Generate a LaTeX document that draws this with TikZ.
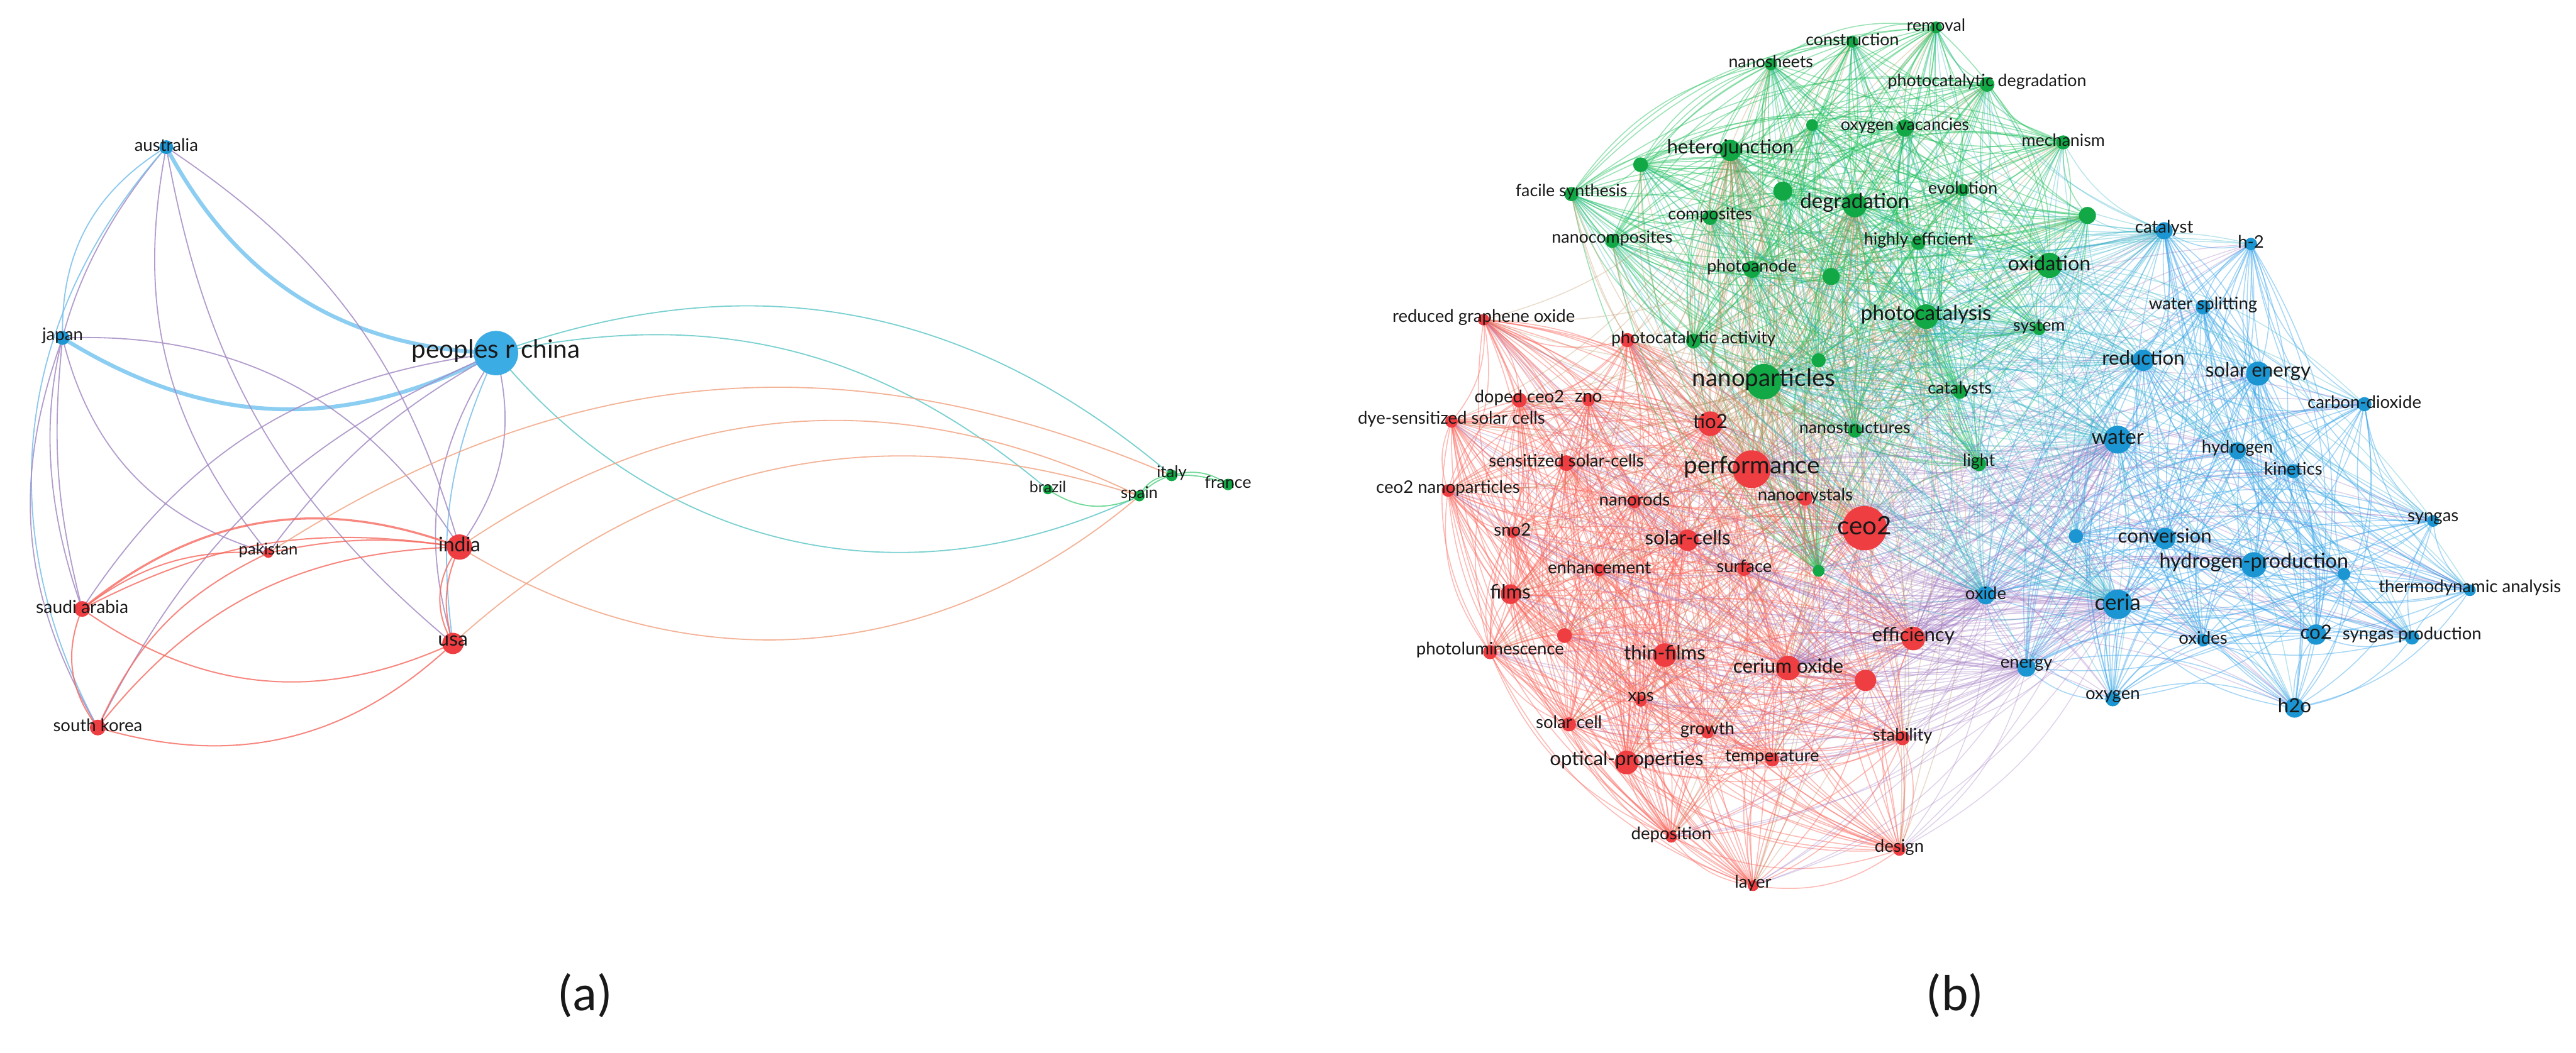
\documentclass[tikz,border=0pt]{standalone}
\usepackage{fontspec}
\setmainfont{Lato}
\newfontfamily\capfont{Carlito}
\pgfdeclarelayer{edges}\pgfdeclarelayer{dots}
\pgfsetlayers{edges,dots,main}
\definecolor{rn}{RGB}{238,62,66}
\definecolor{gn}{RGB}{18,168,70}
\definecolor{bn}{RGB}{28,150,210}
\definecolor{bnl}{RGB}{60,172,228}
\definecolor{re}{RGB}{250,100,90}
\definecolor{ge}{RGB}{30,190,90}
\definecolor{be}{RGB}{60,165,235}
\definecolor{rge}{RGB}{185,140,90}
\definecolor{rbe}{RGB}{155,115,190}
\definecolor{gbe}{RGB}{40,175,195}
\definecolor{txt}{RGB}{25,25,25}
\definecolor{athk}{RGB}{140,205,242}
\definecolor{ablu}{RGB}{120,190,235}
\definecolor{apur}{RGB}{165,140,195}
\definecolor{ared}{RGB}{245,105,95}
\definecolor{aora}{RGB}{240,160,125}
\definecolor{agrn}{RGB}{90,210,135}
\definecolor{atea}{RGB}{100,200,200}
\tikzset{
 dot/.style={circle,inner sep=0pt,draw=none},
 lab/.style={inner sep=0pt,text=txt,anchor=center},
 rr/.style={draw=re,line width=0.42pt,draw opacity=0.45},
 gg/.style={draw=ge,line width=0.42pt,draw opacity=0.45},
 bb/.style={draw=be,line width=0.42pt,draw opacity=0.45},
 rg/.style={draw=rge,line width=0.4pt,draw opacity=0.32},
 rb/.style={draw=rbe,line width=0.4pt,draw opacity=0.32},
 gb/.style={draw=gbe,line width=0.4pt,draw opacity=0.32},
 aT/.style={draw=athk,line width=1.7pt},
 aB/.style={draw=ablu,line width=0.5pt,draw opacity=0.85},
 aP/.style={draw=apur,line width=0.5pt,draw opacity=0.85},
 aR/.style={draw=ared,line width=0.55pt,draw opacity=0.8},
 aO/.style={draw=aora,line width=0.5pt,draw opacity=0.8},
 aG/.style={draw=agrn,line width=0.5pt,draw opacity=0.85},
 aE/.style={draw=atea,line width=0.5pt,draw opacity=0.85},
}
\newcommand\kw[7]{%
\begin{pgfonlayer}{dots}\node[dot,minimum size={#4*0.05cm},fill=#5] (#1) at (#2,#3) {};\end{pgfonlayer}%
\node[lab,font=\fontsize{#6}{#6}\selectfont] (#1-l) at (#2,#3-1.5) {#7};}
\newcommand\kd[5]{%
\begin{pgfonlayer}{dots}\node[dot,minimum size={#4*0.05cm},fill=#5] (#1) at (#2,#3) {};\end{pgfonlayer}}
\newcommand\allpairs[2]{%
\foreach \aa [count=\ii] in #1 {\foreach \bb [count=\jj] in #1 {\ifnum\jj>\ii\relax\draw[#2] (\aa.center) to[bend right=22] (\bb.center);\fi}}}
\newcommand\cross[3]{%
\foreach \aa in #1 {\foreach \bb in {#2} {\draw[#3] (\aa.center) to[bend right=20] (\bb.center);}}}
\def\Rl{ceo2,perf,tio2,solcells,cerox,thinf,optprop,effic,films,sensit,dyesens,doped,zno,ceo2np,nanorods,sno2,enhance,photolum,solcell,xps,growth,temper,depos,layer,design,stabil,nanocr,surface,rgo,rA,rB,rC}
\def\Gl{nanopart,photocat,degrad,oxidat,hetero,removal,constr,nanosh,pcdeg,oxyvac,mechan,facile,compos,nanocomp,evol,highly,photoan,pcact,catalysts,system,nanostr,light,gA,gB,gC,gD,gE,gF,gG}
\def\Bl{water,ceria,hprod,solen,reduct,conver,co2,h2o,catalyst,htwo,wsplit,cdiox,hydrogen,kinet,syngas,thermo,sgprod,oxides,oxide,energy,oxygen,bA,bB}
\begin{document}
\begin{tikzpicture}[x=0.025cm,y=-0.025cm]
\useasboundingbox (0,0) rectangle (1568,641);
% ---------------- panel (a) ----------------
\kw{aus}{101.2}{89.6}{4.2}{bn}{7.5}{australia}
\kw{jap}{38.1}{205.8}{4.2}{bn}{7.5}{japan}
\kw{chn}{301.9}{215}{13.5}{bnl}{11}{peoples r china}
\kw{pak}{163.3}{336.7}{3}{rn}{7}{pakistan}
\kw{ind}{279.7}{333.1}{7.7}{rn}{8.7}{india}
\kw{sau}{50}{370.8}{4.8}{rn}{7.7}{saudi arabia}
\kw{usa}{275.7}{391.8}{6.5}{rn}{8.7}{usa}
\kw{kor}{59.5}{443}{4.8}{rn}{7.5}{south korea}
\kw{bra}{637.8}{298}{3}{gn}{6.8}{brazil}
\kw{spa}{693.5}{302}{3.3}{gn}{7}{spain}
\kw{ita}{713.2}{289.5}{3.5}{gn}{7}{italy}
\kw{fra}{747.5}{295}{3.5}{gn}{7.3}{france}
% ---------------- panel (b) red ----------------
\kw{ceo2}{1134.9}{321.6}{13.5}{rn}{11}{ceo2}
\kw{perf}{1066.3}{285.7}{11.5}{rn}{10.5}{performance}
\kw{tio2}{1041}{258}{7.5}{rn}{8.5}{tio2}
\kw{solcells}{1027.3}{329}{6.5}{rn}{8.5}{solar-cells}
\kw{cerox}{1088.5}{406.8}{7.5}{rn}{8.5}{cerium oxide}
\kw{thinf}{1013.3}{398.9}{7.2}{rn}{8.5}{thin-films}
\kw{optprop}{990.1}{464.3}{7.2}{rn}{8.5}{optical-properties}
\kw{effic}{1164.6}{388.8}{7.2}{rn}{8.5}{efficiency}
\kw{films}{919.4}{361.8}{6}{rn}{8.5}{films}
\kw{sensit}{953.4}{282}{4.8}{rn}{7.5}{sensitized solar-cells}
\kw{dyesens}{883.5}{256.6}{3.8}{rn}{7.5}{dye-sensitized solar cells}
\kw{doped}{924.8}{243.6}{4.5}{rn}{7.5}{doped ceo2}
\kw{zno}{966.9}{243.6}{3.8}{rn}{7.5}{zno}
\kw{ceo2np}{881.4}{298.7}{3.8}{rn}{7.5}{ceo2 nanoparticles}
\kw{nanorods}{994.9}{305.5}{4}{rn}{7.5}{nanorods}
\kw{sno2}{920.6}{324.1}{3.5}{rn}{7.5}{sno2}
\kw{enhance}{973.5}{347}{3.8}{rn}{7.5}{enhancement}
\kw{photolum}{907}{397.1}{4.3}{rn}{7.5}{photoluminescence}
\kw{solcell}{955}{441.1}{4.3}{rn}{7.5}{solar cell}
\kw{xps}{998.8}{426.8}{3.5}{rn}{7.5}{xps}
\kw{growth}{1039.3}{445.9}{3.8}{rn}{7.5}{growth}
\kw{temper}{1078.7}{462.6}{4.2}{rn}{7.5}{temperature}
\kw{depos}{1017.3}{509.6}{3.5}{rn}{7.5}{deposition}
\kw{layer}{1067.1}{539.3}{3.3}{rn}{7.5}{layer}
\kw{design}{1156.1}{517.3}{3.8}{rn}{7.5}{design}
\kw{stabil}{1158.1}{449.5}{4.3}{rn}{7.5}{stability}
\kw{nanocr}{1098.8}{303.6}{4.3}{rn}{7.5}{nanocrystals}
\kw{surface}{1061.7}{346.4}{4.3}{rn}{7.5}{surface}
\kw{rgo}{903.1}{194.7}{3.5}{rn}{7.5}{reduced graphene oxide}
\kd{rA}{990.6}{207.1}{4.3}{rn}
\kd{rB}{952.3}{387}{4.5}{rn}
\kd{rC}{1135.5}{414.3}{6.5}{rn}
% ---------------- panel (b) green ----------------
\kw{nanopart}{1073.6}{232.4}{10.8}{gn}{10.5}{nanoparticles}
\kw{photocat}{1172.4}{192.8}{7.5}{gn}{9}{photocatalysis}
\kw{degrad}{1129}{125}{7.3}{gn}{9}{degradation}
\kw{oxidat}{1247.4}{161.6}{7.7}{gn}{8.8}{oxidation}
\kw{hetero}{1053.2}{91.6}{6.5}{gn}{8.5}{heterojunction}
\kw{removal}{1178.5}{16.7}{3.6}{gn}{7.3}{removal}
\kw{constr}{1127.5}{25.4}{3.6}{gn}{7.3}{construction}
\kw{nanosh}{1077.9}{39}{3.8}{gn}{7.3}{nanosheets}
\kw{pcdeg}{1209.5}{51.4}{4.5}{gn}{7.3}{photocatalytic degradation}
\kw{oxyvac}{1159.5}{78}{5.2}{gn}{7.3}{oxygen vacancies}
\kw{mechan}{1255.9}{86.7}{4.3}{gn}{7.3}{mechanism}
\kw{facile}{956.5}{118.2}{4.3}{gn}{7.3}{facile synthesis}
\kw{compos}{1040.9}{132.5}{4.5}{gn}{7.3}{composites}
\kw{nanocomp}{981.3}{146.7}{4.3}{gn}{7.3}{nanocomposites}
\kw{evol}{1194.8}{115.7}{3.8}{gn}{7.3}{evolution}
\kw{highly}{1167.7}{147.9}{4.3}{gn}{7.3}{highly efficient}
\kw{photoan}{1066.3}{164}{5.2}{gn}{7.3}{photoanode}
\kw{pcact}{1030.8}{207.7}{4.5}{gn}{7.3}{photocatalytic activity}
\kw{catalysts}{1192.9}{238.6}{4.3}{gn}{7.3}{catalysts}
\kw{system}{1241.2}{200.3}{3.8}{gn}{7.3}{system}
\kw{nanostr}{1129}{262.2}{4.3}{gn}{7.3}{nanostructures}
\kw{light}{1204.6}{282.6}{4.3}{gn}{7.3}{light}
\kd{gA}{998.6}{100.3}{4.5}{gn}
\kd{gB}{1103}{76.1}{3.6}{gn}
\kd{gC}{1085.2}{116.4}{5.8}{gn}
\kd{gD}{1270.6}{131.2}{5.2}{gn}
\kd{gE}{1114.6}{168.4}{5.2}{gn}
\kd{gF}{1107}{219.4}{4.3}{gn}
\kd{gG}{1107}{347.6}{3.6}{gn}
% ---------------- panel (b) blue ----------------
\kw{water}{1289}{267.7}{8.5}{bn}{9}{water}
\kw{ceria}{1289}{368}{9}{bn}{9.5}{ceria}
\kw{hprod}{1371.9}{343.9}{7.7}{bn}{8.8}{hydrogen-production}
\kw{solen}{1374.5}{227.5}{7.3}{bn}{8.5}{solar energy}
\kw{reduct}{1304.6}{219.4}{6.5}{bn}{8.5}{reduction}
\kw{conver}{1317.7}{327.8}{6.5}{bn}{8.5}{conversion}
\kw{co2}{1409.8}{386.4}{6.2}{bn}{8.5}{co2}
\kw{h2o}{1396.7}{431}{6}{bn}{8.5}{h2o}
\kw{catalyst}{1317.3}{140.5}{5.2}{bn}{7.5}{catalyst}
\kw{htwo}{1370.1}{148.6}{3.8}{bn}{7.5}{h-2}
\kw{wsplit}{1341}{187}{4.5}{bn}{7.5}{water splitting}
\kw{cdiox}{1439.2}{246.1}{4.3}{bn}{7.5}{carbon-dioxide}
\kw{hydrogen}{1361.9}{274.5}{5.2}{bn}{7.5}{hydrogen}
\kw{kinet}{1395.9}{286.9}{4.3}{bn}{7.5}{kinetics}
\kw{syngas}{1481}{317.2}{3.6}{bn}{7.5}{syngas}
\kw{thermo}{1503.4}{359.4}{3.6}{bn}{7.5}{thermodynamic analysis}
\kw{sgprod}{1468.2}{388.2}{4.3}{bn}{7.5}{syngas production}
\kw{oxides}{1341}{389.9}{3.8}{bn}{7.5}{oxides}
\kw{oxide}{1208.7}{362.5}{5.5}{bn}{7.5}{oxide}
\kw{energy}{1233.5}{406.6}{5.5}{bn}{7.5}{energy}
\kw{oxygen}{1286}{425.6}{4.5}{bn}{7.5}{oxygen}
\kd{bA}{1263.6}{326.5}{4.3}{bn}
\kd{bB}{1426.8}{349.5}{3.8}{bn}
% ---------------- captions ----------------
\node[lab,font=\capfont\fontsize{22}{22}\selectfont] (capa) at (356,606) {(a)};
\node[lab,font=\capfont\fontsize{22}{22}\selectfont] (capb) at (1190,606) {(b)};
% ---------------- edges ----------------
\begin{pgfonlayer}{edges}
% panel (a)
\draw[aT] (aus.center) to[bend right=30] (chn.center);
\draw[aT] (jap.center) to[bend right=30] (chn.center);
\draw[aB] (aus.center) to[bend right=30] (jap.center);
\draw[aP] (jap.center) to[bend left=30] (ind.center);
\draw[aP] (chn.center) to[bend left=25] (ind.center);
\draw[aP] (chn.center) to[bend right=25] (usa.center);
\draw[aB] (chn.center) to[bend right=16] (usa.center);
\draw[aP] (chn.center) to[bend right=25] (sau.center);
\draw[aP] (chn.center) to[bend right=12] (pak.center);
\draw[aP] (chn.center) to[bend right=20] (kor.center);
\draw[aP] (aus.center) to[bend right=25] (pak.center);
\draw[aP] (aus.center) to[bend left=20] (ind.center);
\draw[aP] (aus.center) to[bend right=20] (usa.center);
\draw[aP] (aus.center) to[bend right=30] (sau.center);
\draw[aB] (aus.center) to[bend right=35] (kor.center);
\draw[aP] (jap.center) to[bend right=10] (sau.center);
\draw[aP] (jap.center) to[bend right=25] (kor.center);
\draw[aP] (jap.center) to[bend right=30] (pak.center);
\draw[aR,line width=0.9pt] (ind.center) to[bend right=30] (sau.center);
\draw[aR] (ind.center) to[bend right=18] (sau.center);
\draw[aR] (pak.center) to[bend right=20] (sau.center);
\draw[aR] (ind.center) to[bend right=25] (kor.center);
\draw[aR] (ind.center) to[bend right=20] (usa.center);
\draw[aR] (ind.center) to[bend right=35] (usa.center);
\draw[aR] (pak.center) to[bend left=10] (ind.center);
\draw[aR] (sau.center) to[bend right=30] (usa.center);
\draw[aR] (kor.center) to[bend right=30] (usa.center);
\draw[aR] (sau.center) to[bend right=30] (kor.center);
\draw[aR] (kor.center) to[bend left=20] (pak.center);
\draw[aE] (chn.center) to[bend left=30] (ita.center);
\draw[aE] (chn.center) to[bend left=26] (bra.center);
\draw[aE] (chn.center) to[bend right=38] (spa.center);
\draw[aO] (pak.center) to[bend left=28] (ita.center);
\draw[aO] (ind.center) to[bend left=30] (spa.center);
\draw[aO] (usa.center) to[bend left=30] (spa.center);
\draw[aO] (ind.center) to[bend right=36] (spa.center);
\draw[aG] (bra.center) to[bend right=30] (spa.center);
\draw[aG] (spa.center) to[bend left=30] (ita.center);
\draw[aG] (spa.center) to[bend left=15] (ita.center);
\draw[aG] (ita.center) to[bend left=25] (fra.center);
\draw[aG] (ita.center) to[bend left=12] (fra.center);
% panel (b)
\allpairs{\Rl}{rr}
\allpairs{\Gl}{gg}
\allpairs{\Bl}{bb}
\cross{\Rl}{nanopart,photocat,degrad,hetero}{rg}
\cross{\Gl}{ceo2,perf,tio2}{rg}
\cross{\Rl}{water,ceria,energy,oxide}{rb}
\cross{\Bl}{ceo2,perf,cerox,effic}{rb}
\cross{\Gl}{water,reduct,catalyst,oxide,ceria}{gb}
\cross{\Bl}{oxidat,photocat,nanopart}{gb}
\end{pgfonlayer}
\end{tikzpicture}
\end{document}
